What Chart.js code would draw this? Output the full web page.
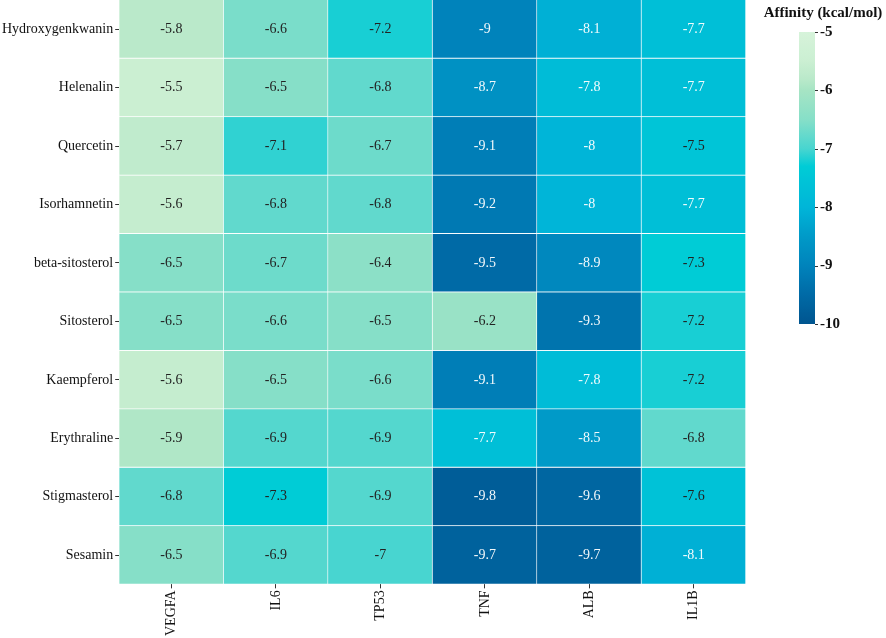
<!DOCTYPE html>
<html>
<head>
<meta charset="utf-8">
<script src="https://cdn.jsdelivr.net/npm/chart.js@4/dist/chart.umd.min.js"></script>
<style>
  html, body { margin: 0; padding: 0; background: #fff; }
  #wrap { width: 886px; height: 638px; }
</style>
</head>
<body>
<div id="wrap"><canvas id="heat"></canvas></div>
<script>
const compounds = ["Hydroxygenkwanin", "Helenalin", "Quercetin", "Isorhamnetin", "beta-sitosterol",
  "Sitosterol", "Kaempferol", "Erythraline", "Stigmasterol", "Sesamin"];
const targets = ["VEGFA", "IL6", "TP53", "TNF", "ALB", "IL1B"];

// affinity per compound, in the order of targets
const hydroxygenkwanin = [-5.8, -6.6, -7.2, -9.0, -8.1, -7.7];
const helenalin = [-5.5, -6.5, -6.8, -8.7, -7.8, -7.7];
const quercetin = [-5.7, -7.1, -6.7, -9.1, -8.0, -7.5];
const isorhamnetin = [-5.6, -6.8, -6.8, -9.2, -8.0, -7.7];
const betaSitosterol = [-6.5, -6.7, -6.4, -9.5, -8.9, -7.3];
const sitosterol = [-6.5, -6.6, -6.5, -6.2, -9.3, -7.2];
const kaempferol = [-5.6, -6.5, -6.6, -9.1, -7.8, -7.2];
const erythraline = [-5.9, -6.9, -6.9, -7.7, -8.5, -6.8];
const stigmasterol = [-6.8, -7.3, -6.9, -9.8, -9.6, -7.6];
const sesamin = [-6.5, -6.9, -7.0, -9.7, -9.7, -8.1];

const affinity = [hydroxygenkwanin, helenalin, quercetin, isorhamnetin, betaSitosterol,
  sitosterol, kaempferol, erythraline, stigmasterol, sesamin];

const colorbarTicks = [-5, -6, -7, -8, -9, -10];

// colour ramp (value -> rgb)
const stops = [
  [-5.0, [214, 243, 218]],
  [-5.5, [203, 239, 210]],
  [-5.8, [186, 233, 202]],
  [-6.0, [166, 228, 196]],
  [-6.5, [134, 223, 200]],
  [-7.0, [72, 213, 208]],
  [-7.3, [0, 204, 214]],
  [-8.0, [0, 181, 216]],
  [-8.5, [0, 154, 200]],
  [-9.0, [0, 131, 187]],
  [-9.5, [0, 106, 166]],
  [-10.0, [0, 85, 143]]
];

function colorFor(v) {
  if (v >= stops[0][0]) return "rgb(" + stops[0][1].join(",") + ")";
  for (let i = 1; i < stops.length; i++) {
    const [v1, c1] = stops[i];
    const [v0, c0] = stops[i - 1];
    if (v >= v1) {
      const t = (v0 - v) / (v0 - v1);
      const c = c0.map((x, k) => Math.round(x + (c1[k] - x) * t));
      return "rgb(" + c.join(",") + ")";
    }
  }
  return "rgb(" + stops[stops.length - 1][1].join(",") + ")";
}

const serif = "'Liberation Serif', 'Times New Roman', serif";

const datasets = compounds.map((name, i) => ({
  label: name,
  data: targets.map(() => [i, i + 1]),
  values: affinity[i],
  backgroundColor: affinity[i].map(colorFor),
  borderColor: "rgba(255,255,255,0.85)",
  borderWidth: { top: 0, left: 0, right: 1, bottom: 1 },
  borderSkipped: false,
  grouped: false,
  barPercentage: 1,
  categoryPercentage: 1
}));

const cellLabels = {
  id: "cellLabels",
  afterDatasetsDraw(chart) {
    const ctx = chart.ctx;
    ctx.save();
    ctx.font = "14px " + serif;
    ctx.textAlign = "center";
    ctx.textBaseline = "middle";
    chart.data.datasets.forEach((ds, i) => {
      chart.getDatasetMeta(i).data.forEach((bar, j) => {
        const v = ds.values[j];
        const cy = (bar.y + bar.base) / 2;
        ctx.fillStyle = v <= -7.65 ? "rgba(255,255,255,0.95)" : "#222222";
        ctx.fillText(String(v), bar.x, cy);
      });
    });
    ctx.restore();
  }
};

const colorbar = {
  id: "colorbar",
  afterDraw(chart) {
    const ctx = chart.ctx;
    const x = chart.chartArea.right + 53, w = 16;
    const top = 32, bottom = 324;
    const grad = ctx.createLinearGradient(0, top, 0, bottom);
    for (let k = 0; k <= 50; k++) {
      const v = -5 - 5 * k / 50;
      grad.addColorStop(k / 50, colorFor(v));
    }
    ctx.save();
    ctx.fillStyle = grad;
    ctx.fillRect(x, top, w, bottom - top);
    ctx.fillStyle = "#111";
    ctx.strokeStyle = "#333";
    ctx.lineWidth = 1;
    ctx.font = "bold 15px " + serif;
    ctx.textBaseline = "middle";
    ctx.textAlign = "left";
    colorbarTicks.forEach(t => {
      const y = top + (-5 - t) / 5 * (bottom - top);
      ctx.beginPath();
      ctx.moveTo(x + w, Math.round(y) + 0.5);
      ctx.lineTo(x + w + 3, Math.round(y) + 0.5);
      ctx.stroke();
      ctx.fillText(String(t), x + w + 5, y);
    });
    ctx.textAlign = "center";
    ctx.fillText("Affinity (kcal/mol)", x + 24, 13);
    ctx.restore();
  }
};

new Chart(document.getElementById("heat"), {
  type: "bar",
  data: { labels: targets, datasets: datasets },
  options: {
    responsive: true,
    maintainAspectRatio: false,
    animation: false,
    layout: { padding: { top: 0, right: 140, left: 0, bottom: 0 } },
    plugins: {
      legend: { display: false },
      tooltip: { enabled: false }
    },
    scales: {
      x: {
        type: "category",
        offset: true,
        border: { display: false },
        grid: { display: true, offset: false, drawOnChartArea: false, tickLength: 4, color: "#333" },
        ticks: {
          minRotation: 90, maxRotation: 90, padding: 2,
          color: "#111", font: { family: serif, size: 14 }
        }
      },
      y: {
        type: "linear",
        min: 0, max: 10,
        reverse: true,
        border: { display: false },
        grid: { display: true, drawOnChartArea: false, tickLength: 4, color: "#333" },
        afterBuildTicks(axis) {
          axis.ticks = compounds.map((c, i) => ({ value: i + 0.5 }));
        },
        afterFit(axis) {
          axis.paddingTop = 0;
          axis.paddingBottom = 0;
        },
        ticks: {
          padding: 2,
          color: "#111",
          font: { family: serif, size: 14 },
          callback: v => compounds[Math.floor(v)]
        }
      }
    }
  },
  plugins: [cellLabels, colorbar]
});
</script>
</body>
</html>
